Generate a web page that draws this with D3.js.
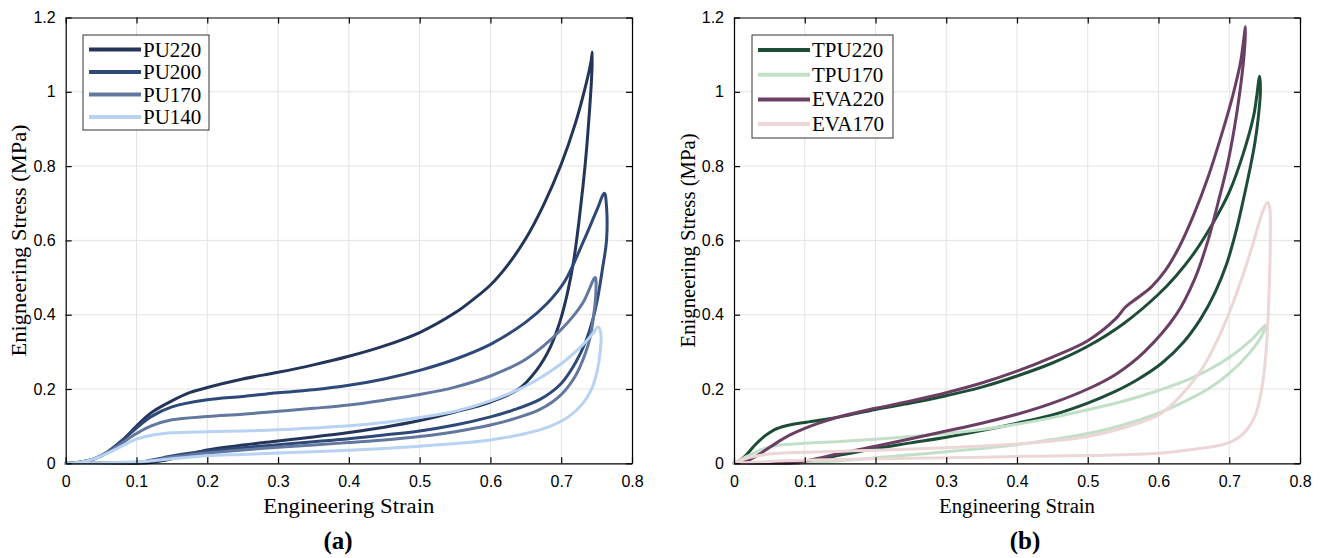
<!DOCTYPE html>
<html>
<head>
<meta charset="utf-8">
<script src="https://cdn.jsdelivr.net/npm/d3@7"></script>
<style>
  html, body { margin: 0; padding: 0; background: #ffffff; }
  svg { display: block; }
</style>
</head>
<body>
<svg id="chart" width="1321" height="558"></svg>
<script>
// ---------------- DATA ----------------
const xTicks = [0, 0.1, 0.2, 0.3, 0.4, 0.5, 0.6, 0.7, 0.8];
const yTicks = [0, 0.2, 0.4, 0.6, 0.8, 1, 1.2];
const xLabel = "Engineering Strain";
const yLabel = "Enigneering Stress (MPa)";

const seriesA = ["PU220", "PU200", "PU170", "PU140"];
const colorsA = ["#233559", "#2e4878", "#62789f", "#b8d2f2"];
const seriesB = ["TPU220", "TPU170", "EVA220", "EVA170"];
const colorsB = ["#1e4d37", "#c2e0c8", "#6b3f64", "#ecd6d6"];

// [strain, stress] along loading then unloading path
const pu220 = [[0,0],[0.02,0.003],[0.04,0.012],[0.06,0.03],[0.08,0.062],[0.1,0.1],[0.12,0.135],[0.15,0.168],[0.175,0.19],[0.2,0.204],[0.25,0.227],[0.3,0.245],[0.35,0.265],[0.4,0.288],[0.45,0.316],[0.5,0.352],[0.55,0.405],[0.575,0.44],[0.6,0.48],[0.625,0.535],[0.65,0.605],[0.675,0.695],[0.7,0.805],[0.72,0.915],[0.735,1.02],[0.742,1.08],[0.744,1.107],
  [0.743,1.04],[0.740,0.95],[0.736,0.85],[0.731,0.75],[0.725,0.65],[0.718,0.55],[0.709,0.46],[0.698,0.38],[0.684,0.31],[0.665,0.25],[0.64,0.2],[0.6,0.165],[0.55,0.138],[0.5,0.115],[0.45,0.097],[0.4,0.083],[0.35,0.071],[0.3,0.06],[0.25,0.049],[0.2,0.036],[0.17,0.022],[0.14,0.008],[0.12,0.002],[0.1,0],[0.05,0],[0.01,0]];
const pu200 = [[0,0],[0.02,0.003],[0.04,0.012],[0.06,0.032],[0.08,0.062],[0.1,0.095],[0.12,0.125],[0.15,0.152],[0.2,0.171],[0.25,0.18],[0.3,0.19],[0.35,0.198],[0.4,0.21],[0.45,0.227],[0.5,0.25],[0.55,0.28],[0.6,0.32],[0.65,0.38],[0.68,0.43],[0.705,0.49],[0.732,0.6],[0.75,0.68],[0.761,0.727],
  [0.764,0.69],[0.764,0.6],[0.758,0.52],[0.752,0.45],[0.745,0.39],[0.735,0.33],[0.72,0.27],[0.7,0.215],[0.67,0.172],[0.63,0.142],[0.6,0.125],[0.55,0.103],[0.5,0.087],[0.45,0.076],[0.4,0.066],[0.35,0.058],[0.3,0.05],[0.25,0.042],[0.2,0.033],[0.15,0.02],[0.12,0.008],[0.1,0.001],[0.08,0],[0.01,0]];
const pu170 = [[0,0],[0.02,0.003],[0.04,0.012],[0.06,0.03],[0.08,0.055],[0.1,0.08],[0.12,0.1],[0.15,0.117],[0.2,0.126],[0.25,0.132],[0.3,0.14],[0.35,0.148],[0.4,0.157],[0.45,0.17],[0.5,0.185],[0.55,0.205],[0.6,0.235],[0.65,0.28],[0.7,0.36],[0.73,0.43],[0.748,0.5],
  [0.749,0.46],[0.746,0.4],[0.741,0.34],[0.733,0.29],[0.72,0.235],[0.7,0.185],[0.67,0.145],[0.63,0.118],[0.6,0.103],[0.55,0.085],[0.5,0.072],[0.45,0.063],[0.4,0.056],[0.35,0.049],[0.3,0.043],[0.25,0.036],[0.2,0.028],[0.15,0.017],[0.12,0.007],[0.1,0.002],[0.08,0],[0.01,0]];
const pu140 = [[0,0],[0.02,0.003],[0.04,0.012],[0.06,0.028],[0.08,0.047],[0.1,0.065],[0.12,0.075],[0.15,0.082],[0.2,0.085],[0.25,0.087],[0.3,0.09],[0.35,0.095],[0.4,0.101],[0.45,0.11],[0.5,0.123],[0.55,0.14],[0.6,0.168],[0.65,0.208],[0.7,0.268],[0.73,0.318],[0.745,0.35],[0.752,0.367],
  [0.756,0.35],[0.755,0.3],[0.751,0.25],[0.743,0.2],[0.73,0.16],[0.71,0.125],[0.685,0.1],[0.65,0.08],[0.6,0.063],[0.55,0.053],[0.5,0.046],[0.45,0.04],[0.4,0.035],[0.35,0.031],[0.3,0.028],[0.25,0.024],[0.2,0.02],[0.15,0.012],[0.1,0.004],[0.05,0.001],[0.01,0]];

const tpu220 = [[0,0],[0.01,0.01],[0.02,0.028],[0.03,0.05],[0.04,0.068],[0.05,0.082],[0.06,0.093],[0.08,0.104],[0.1,0.11],[0.15,0.125],[0.2,0.145],[0.25,0.162],[0.3,0.182],[0.35,0.205],[0.4,0.235],[0.45,0.27],[0.5,0.315],[0.55,0.375],[0.6,0.455],[0.625,0.505],[0.65,0.565],[0.675,0.64],[0.7,0.73],[0.72,0.835],[0.735,0.94],[0.743,1.042],
  [0.744,1.0],[0.741,0.93],[0.736,0.86],[0.729,0.79],[0.72,0.71],[0.709,0.62],[0.696,0.535],[0.68,0.46],[0.66,0.39],[0.635,0.325],[0.605,0.27],[0.57,0.225],[0.535,0.19],[0.5,0.162],[0.45,0.13],[0.4,0.108],[0.35,0.088],[0.3,0.07],[0.25,0.055],[0.2,0.04],[0.15,0.022],[0.12,0.01],[0.1,0.003],[0.08,0],[0.01,0]];
const tpu170 = [[0,0],[0.02,0.02],[0.04,0.038],[0.06,0.048],[0.1,0.054],[0.15,0.059],[0.2,0.065],[0.25,0.072],[0.3,0.08],[0.35,0.091],[0.4,0.105],[0.45,0.123],[0.5,0.144],[0.55,0.167],[0.6,0.196],[0.65,0.232],[0.7,0.285],[0.73,0.33],[0.752,0.372],
  [0.745,0.34],[0.73,0.3],[0.7,0.242],[0.67,0.2],[0.63,0.16],[0.6,0.135],[0.55,0.103],[0.5,0.08],[0.45,0.064],[0.4,0.05],[0.35,0.04],[0.3,0.031],[0.25,0.023],[0.2,0.015],[0.15,0.007],[0.1,0.002],[0.05,0],[0,0]];
const eva220 = [[0,0],[0.02,0.008],[0.04,0.03],[0.06,0.055],[0.08,0.077],[0.1,0.094],[0.12,0.108],[0.15,0.126],[0.2,0.148],[0.25,0.168],[0.3,0.19],[0.35,0.216],[0.4,0.248],[0.45,0.286],[0.5,0.33],[0.54,0.39],[0.553,0.42],[0.57,0.445],[0.59,0.475],[0.61,0.52],[0.63,0.585],[0.65,0.67],[0.67,0.77],[0.69,0.89],[0.705,0.99],[0.716,1.08],[0.723,1.175],
  [0.721,1.1],[0.715,1.0],[0.707,0.9],[0.697,0.8],[0.684,0.7],[0.67,0.6],[0.652,0.5],[0.625,0.4],[0.58,0.3],[0.54,0.24],[0.5,0.2],[0.45,0.162],[0.4,0.132],[0.35,0.108],[0.3,0.087],[0.25,0.066],[0.2,0.046],[0.15,0.027],[0.12,0.014],[0.1,0.006],[0.08,0.001],[0.05,0],[0,0]];
const eva170 = [[0,0],[0.02,0.015],[0.05,0.025],[0.1,0.03],[0.2,0.035],[0.3,0.042],[0.4,0.052],[0.45,0.06],[0.5,0.072],[0.55,0.095],[0.6,0.13],[0.62,0.16],[0.64,0.2],[0.66,0.25],[0.675,0.3],[0.69,0.36],[0.705,0.43],[0.72,0.51],[0.735,0.6],[0.745,0.665],[0.754,0.703],
  [0.757,0.69],[0.758,0.6],[0.757,0.5],[0.755,0.4],[0.752,0.3],[0.746,0.2],[0.736,0.125],[0.72,0.08],[0.705,0.06],[0.69,0.05],[0.65,0.038],[0.6,0.027],[0.5,0.021],[0.4,0.018],[0.3,0.015],[0.2,0.012],[0.1,0.008],[0.05,0.005],[0,0]];

const dataA = [pu220, pu200, pu170, pu140];
const dataB = [tpu220, tpu170, eva220, eva170];

// ---------------- DRAW ----------------
const svg = d3.select("#chart");

function panel(opts) {
  const { left, right, top, bottom, names, colors, data, legend, tag, tagX, xLabelLen, yLabelX, yLabelLen } = opts;
  const x = d3.scaleLinear().domain([0, 0.8]).range([left, right]);
  const y = d3.scaleLinear().domain([0, 1.2]).range([bottom, top]);
  const g = svg.append("g");

  // grid
  g.append("g").selectAll("line").data(xTicks.slice(1, -1)).join("line")
    .attr("x1", d => x(d)).attr("x2", d => x(d)).attr("y1", top).attr("y2", bottom)
    .attr("stroke", "#e3e3e3").attr("stroke-width", 1);
  g.append("g").selectAll("line").data(yTicks.slice(1, -1)).join("line")
    .attr("y1", d => y(d)).attr("y2", d => y(d)).attr("x1", left).attr("x2", right)
    .attr("stroke", "#e3e3e3").attr("stroke-width", 1);

  // curves
  const line = d3.line().x(d => x(d[0])).y(d => y(d[1])).curve(d3.curveCatmullRom.alpha(0.5));
  data.forEach((pts, i) => {
    g.append("path").attr("d", line(pts)).attr("fill", "none")
      .attr("stroke", colors[i]).attr("stroke-width", 3)
      .attr("stroke-linejoin", "round").attr("stroke-linecap", "round");
  });

  // axes (inward ticks, box)
  const tickFmt = d => d3.format("~g")(d);
  const axB = d3.axisBottom(x).tickValues(xTicks).tickFormat(tickFmt).tickSizeInner(-6).tickSizeOuter(0).tickPadding(12);
  const axL = d3.axisLeft(y).tickValues(yTicks).tickFormat(tickFmt).tickSizeInner(-6).tickSizeOuter(0).tickPadding(10);
  const axT = d3.axisTop(x).tickValues(xTicks).tickFormat("").tickSizeInner(-6).tickSizeOuter(0);
  const axR = d3.axisRight(y).tickValues(yTicks).tickFormat("").tickSizeInner(-6).tickSizeOuter(0);
  const styleAxis = sel => {
    sel.selectAll("path").attr("stroke", "#000").attr("stroke-width", 1.2);
    sel.selectAll("line").attr("stroke", "#000").attr("stroke-width", 1.2);
    sel.selectAll("text").attr("font-family", "'Liberation Sans', Arial, sans-serif").attr("font-size", 16).attr("fill", "#000");
  };
  g.append("g").attr("transform", `translate(0,${bottom})`).call(axB).call(styleAxis);
  g.append("g").attr("transform", `translate(${left},0)`).call(axL).call(styleAxis);
  g.append("g").attr("transform", `translate(0,${top})`).call(axT).call(styleAxis);
  g.append("g").attr("transform", `translate(${right},0)`).call(axR).call(styleAxis);

  // axis titles
  g.append("text").attr("x", (left + right) / 2).attr("y", 513)
    .attr("text-anchor", "middle").attr("font-family", "'Liberation Serif', 'Times New Roman', serif")
    .attr("font-size", 20).attr("textLength", xLabelLen).attr("lengthAdjust", "spacingAndGlyphs")
    .text(xLabel);
  g.append("text").attr("transform", `translate(${yLabelX},${(top + bottom) / 2}) rotate(-90)`)
    .attr("text-anchor", "middle").attr("dy", "0.35em")
    .attr("font-family", "'Liberation Serif', 'Times New Roman', serif")
    .attr("font-size", 20).attr("textLength", yLabelLen).attr("lengthAdjust", "spacingAndGlyphs")
    .text(yLabel);

  // panel tag
  g.append("text").attr("x", tagX).attr("y", 549).attr("text-anchor", "middle")
    .attr("font-family", "'Liberation Serif', 'Times New Roman', serif")
    .attr("font-weight", "bold").attr("font-size", 25).text(tag);

  // legend
  const lg = g.append("g");
  lg.append("rect").attr("x", legend.x).attr("y", legend.y).attr("width", legend.w).attr("height", legend.h)
    .attr("fill", "#fff").attr("stroke", "#333").attr("stroke-width", 1);
  names.forEach((n, i) => {
    const cy = legend.y + legend.first + i * legend.step;
    lg.append("line").attr("x1", legend.x + 6).attr("x2", legend.x + 58).attr("y1", cy).attr("y2", cy)
      .attr("stroke", colors[i]).attr("stroke-width", 4);
    lg.append("text").attr("x", legend.x + 60).attr("y", cy + 7)
      .attr("font-family", "'Liberation Serif', 'Times New Roman', serif")
      .attr("font-size", 21).attr("fill", "#000").text(n);
  });
}

panel({ left: 65.7, right: 632, top: 17.5, bottom: 463.3, names: seriesA, colors: colorsA, data: dataA,
  legend: { x: 83, y: 35, w: 126, h: 95, first: 14.5, step: 22.5 }, tag: "(a)", tagX: 338,
  xLabelLen: 171, yLabelX: 19, yLabelLen: 232 });
panel({ left: 734, right: 1300, top: 17.5, bottom: 463.3, names: seriesB, colors: colorsB, data: dataB,
  legend: { x: 752, y: 35, w: 141, h: 103, first: 15, step: 24.7 }, tag: "(b)", tagX: 1025,
  xLabelLen: 156, yLabelX: 688, yLabelLen: 214 });
</script>
</body>
</html>
